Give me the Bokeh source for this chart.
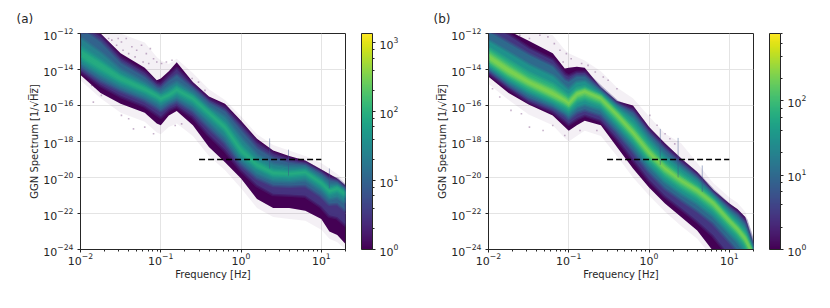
from bokeh.embed import file_html
from bokeh.resources import INLINE
from bokeh.layouts import row
from bokeh.plotting import figure
from bokeh.models import (ColorBar, ColumnDataSource, FixedTicker, LogColorMapper,
                          LogTicker, LogTickFormatter, Title)
from bokeh.palettes import Viridis256

freq_hz = [0.01, 0.0178, 0.0316, 0.0631, 0.0891, 0.1, 0.126, 0.158, 0.251, 0.398,
           0.631, 1.0, 1.58, 2.51, 3.98, 6.31, 10.0, 12.6, 15.8, 20.0]

# Panel (a): log10 spectrum of each density contour, upper and lower edge
a_levels = [1, 3, 10, 25, 50, 85]
a_up0 = [-11.0,-11.5,-12.0,-12.5,-13.3,-13.5,-13.7,-13.4,-14.2,-15.1,-15.7,-16.6,-17.6,-18.2,-18.5,-18.8,-19.2,-19.5,-19.8,-20.2]
a_up1 = [-11.5,-12.0,-13.1,-13.9,-14.6,-14.5,-14.1,-13.6,-14.7,-15.5,-15.9,-16.85,-17.85,-18.5,-18.8,-19.05,-19.55,-19.8,-20.05,-20.45]
a_up3 = [-11.5,-12.2,-13.4,-14.2,-14.8,-14.85,-14.4,-14.0,-14.9,-15.7,-16.15,-17.1,-18.1,-18.7,-19.0,-19.2,-19.7,-20.0,-20.15,-20.55]
a_up10 = [-11.7,-12.5,-13.65,-14.45,-15.0,-15.05,-14.65,-14.35,-15.05,-15.85,-16.35,-17.4,-18.4,-18.95,-19.2,-19.3,-19.8,-20.15,-20.25,-20.62]
a_up25 = [-12.3,-13.1,-14.05,-14.75,-15.2,-15.3,-15.0,-14.75,-15.3,-16.1,-16.7,-17.85,-18.8,-19.3,-19.45,-19.45,-20.0,-20.4,-20.4,-20.72]
a_up50 = [-12.75,-13.5,-14.3,-14.95,-15.35,-15.48,-15.25,-14.98,-15.48,-16.28,-17.0,-18.2,-19.1,-19.55,-19.65,-19.6,-20.2,-20.62,-20.52,-20.82]
a_up85 = [-12.95,-13.65,-14.4,-15.02,-15.4,-15.55,-15.35,-15.05,-15.55,-16.35,-17.12,-18.4,-19.22,-19.68,-19.75,-19.67,-20.26,-20.7,-20.57,-20.87]
a_lo85 = [-13.25,-13.95,-14.6,-15.18,-15.52,-15.68,-15.48,-15.2,-15.68,-16.48,-17.3,-18.6,-19.38,-19.82,-19.85,-19.75,-20.35,-20.8,-20.65,-20.95]
a_lo50 = [-13.45,-14.15,-14.75,-15.3,-15.65,-15.8,-15.6,-15.35,-15.85,-16.65,-17.45,-18.75,-19.5,-19.95,-20.0,-19.9,-20.5,-20.95,-20.8,-21.1]
a_lo25 = [-13.65,-14.35,-14.95,-15.5,-15.85,-16.0,-15.75,-15.55,-16.05,-16.9,-17.75,-19.0,-19.75,-20.15,-20.2,-20.1,-20.7,-21.15,-21.05,-21.35]
a_lo10 = [-13.85,-14.6,-15.15,-15.7,-16.1,-16.25,-15.95,-15.75,-16.3,-17.2,-18.05,-19.25,-20.0,-20.4,-20.45,-20.4,-21.0,-21.45,-21.4,-21.8]
a_lo3 = [-14.05,-14.85,-15.45,-16.0,-16.45,-16.6,-16.2,-16.0,-16.6,-17.6,-18.45,-19.55,-20.4,-20.9,-20.95,-21.0,-21.6,-22.1,-22.2,-22.6]
a_lo1 = [-14.3,-15.3,-15.9,-16.4,-17.0,-17.1,-16.55,-16.3,-17.1,-18.3,-19.15,-20.05,-21.2,-21.7,-21.7,-21.85,-22.3,-23.0,-23.2,-23.7]
a_lo0 = [-14.6,-15.6,-16.4,-16.9,-17.5,-17.6,-17.2,-17.0,-17.7,-18.8,-19.6,-20.6,-21.7,-22.2,-22.3,-22.4,-22.9,-23.4,-23.6,-24.0]

# Panel (b)
b_levels = [1, 3, 10, 30, 70, 130, 210]
b_up0 = [-11.0,-11.5,-11.8,-12.1,-12.9,-13.1,-13.3,-13.5,-14.1,-15.0,-15.6,-16.6,-17.55,-18.1,-19.2,-20.3,-21.1,-21.4,-21.9,-23.4]
b_up1 = [-11.3,-11.85,-12.4,-13.1,-13.95,-13.9,-13.85,-13.9,-15.0,-15.75,-16.0,-17.2,-18.1,-18.95,-19.7,-20.7,-21.45,-21.75,-22.2,-23.7]
b_up3 = [-11.5,-12.1,-12.84,-13.5,-14.3,-14.4,-14.2,-14.2,-15.05,-15.85,-16.25,-17.4,-18.3,-19.1,-19.85,-20.8,-21.6,-21.95,-22.4,-23.8]
b_up10 = [-11.9,-12.55,-13.2,-13.85,-14.6,-14.7,-14.4,-14.4,-15.15,-15.95,-16.45,-17.6,-18.5,-19.3,-20.0,-20.92,-21.75,-22.1,-22.6,-23.9]
b_up30 = [-12.45,-13.1,-13.77,-14.4,-15.0,-15.15,-14.75,-14.7,-15.3,-16.1,-16.75,-17.9,-18.85,-19.55,-20.2,-21.05,-21.95,-22.35,-22.85,-24.0]
b_up70 = [-12.85,-13.55,-14.23,-14.85,-15.35,-15.5,-15.1,-15.0,-15.42,-16.27,-17.1,-18.2,-19.15,-19.85,-20.45,-21.2,-22.15,-22.6,-23.1,-24.15]
b_up130 = [-13.05,-13.8,-14.5,-15.1,-15.55,-15.72,-15.27,-15.12,-15.5,-16.4,-17.35,-18.45,-19.35,-20.05,-20.62,-21.33,-22.32,-22.77,-23.3,-24.25]
b_up210 = [-13.2,-13.95,-14.62,-15.25,-15.65,-15.82,-15.32,-15.17,-15.55,-16.46,-17.45,-18.55,-19.45,-20.12,-20.67,-21.37,-22.37,-22.82,-23.36,-24.28]
b_lo210 = [-13.4,-14.15,-14.78,-15.43,-15.77,-15.93,-15.42,-15.27,-15.65,-16.55,-17.55,-18.65,-19.55,-20.2,-20.75,-21.45,-22.43,-22.88,-23.44,-24.35]
b_lo130 = [-13.52,-14.3,-14.9,-15.55,-15.88,-16.03,-15.55,-15.42,-15.78,-16.7,-17.68,-18.8,-19.7,-20.35,-20.9,-21.6,-22.55,-23.0,-23.55,-24.5]
b_lo70 = [-13.68,-14.45,-15.1,-15.7,-16.05,-16.2,-15.75,-15.62,-15.95,-16.9,-17.88,-19.0,-19.9,-20.55,-21.1,-21.8,-22.75,-23.2,-23.75,-24.8]
b_lo30 = [-13.85,-14.65,-15.3,-15.9,-16.3,-16.45,-16.05,-15.9,-16.2,-17.15,-18.15,-19.3,-20.2,-20.85,-21.4,-22.1,-23.05,-23.5,-24.1,-25.0]
b_lo10 = [-14.0,-14.85,-15.55,-16.1,-16.5,-16.7,-16.35,-16.2,-16.5,-17.45,-18.5,-19.65,-20.55,-21.2,-21.8,-22.5,-23.5,-24.0,-24.6,-25.5]
b_lo3 = [-14.15,-15.0,-15.75,-16.3,-16.8,-17.0,-16.7,-16.5,-16.8,-17.8,-18.95,-20.1,-21.0,-21.7,-22.4,-23.2,-24.3,-24.8,-25.2,-26.0]
b_lo1 = [-14.4,-15.3,-15.95,-16.55,-17.2,-17.4,-17.1,-16.85,-17.1,-18.3,-19.5,-20.55,-21.45,-22.2,-22.95,-24.1,-25.0,-25.5,-26.0,-26.5]
b_lo0 = [-14.8,-15.7,-16.5,-17.1,-17.8,-18.0,-17.7,-17.4,-17.7,-18.8,-20.0,-21.0,-21.9,-22.7,-23.4,-24.5,-25.5,-26.0,-26.5,-27.0]

a_uppers = [a_up1, a_up3, a_up10, a_up25, a_up50, a_up85]
a_lowers = [a_lo1, a_lo3, a_lo10, a_lo25, a_lo50, a_lo85]
b_uppers = [b_up1, b_up3, b_up10, b_up30, b_up70, b_up130, b_up210]
b_lowers = [b_lo1, b_lo3, b_lo10, b_lo30, b_lo70, b_lo130, b_lo210]

# Stray low-count cells (log10 f, log10 spectrum)
a_stray_f = [-1.61,-1.55,-1.49,-1.43,-1.36,-1.30,-1.24,-1.18,-1.13,-1.09,-1.05,-0.99,-0.93,-0.86,-0.61,-0.53,-0.45,
             -1.47,-1.40,-1.32,-1.22,-1.15,-1.53,-1.65,-1.86,-1.82,-1.84,-1.74,-1.49,-1.40,-1.34,-1.20,-1.09,-0.82,-0.74,-0.49]
a_stray_v = [-12.37,-12.65,-12.47,-12.28,-12.74,-12.93,-12.65,-13.12,-12.84,-13.40,-13.58,-13.67,-13.58,-13.49,-14.50,-14.70,-15.16,
             -12.93,-13.12,-13.30,-13.58,-13.67,-12.28,-12.28,-14.88,-14.97,-15.81,-15.44,-16.55,-16.74,-17.30,-17.20,-17.57,-17.11,-17.02,-17.57]
b_stray_f = [-1.90,-1.78,-1.61,-1.49,-1.36,-1.26,-1.18,-1.11,-1.03,-0.97,-0.84,-0.76,-0.67,-0.57,-0.51,-0.40,-1.40,-1.30,-1.20,-1.07,
             -1.95,-1.86,-1.72,-1.59,-1.49,-1.32,-1.20,-1.05,-0.86,-0.65,-0.45,0.01,0.10,0.20,0.26,0.32,-0.07,-0.15]
b_stray_v = [-12.10,-12.19,-12.10,-12.28,-12.10,-12.19,-12.56,-12.93,-13.12,-13.40,-13.67,-13.77,-14.14,-14.42,-14.60,-15.07,-12.74,-13.12,-13.49,-13.58,
             -15.07,-15.53,-16.27,-16.46,-17.20,-17.39,-17.11,-17.67,-17.39,-17.39,-17.76,-16.55,-17.10,-17.57,-17.85,-18.13,-16.83,-16.46]

# Narrow vertical lines standing out of the band: frequency, top, bottom
a_spike_f = [2.27, 3.9, 12.6]
a_spike_top = [-17.83, -18.45, -19.5]
a_spike_bot = [-19.5, -19.9, -20.6]
b_spike_f = [1.38, 2.3, 4.6]
b_spike_top = [-17.3, -17.8, -19.33]
b_spike_bot = [-19.3, -20.0, -20.8]

dash_freq = [0.3, 10.0]
dash_level = [1e-19, 1e-19]
y_ticks = [1e-24, 1e-22, 1e-20, 1e-18, 1e-16, 1e-14, 1e-12]
x_major = [0.01, 0.1, 1.0, 10.0]
x_minor = [m * d for d in (0.01, 0.1, 1.0) for m in range(2, 10)] + [20.0]
a_cb_high = 1365
b_cb_high = 810

FONT = "DejaVu Sans"
INK = "#262626"


def polygon(upper, lower):
    xs = freq_hz + freq_hz[::-1]
    ys = [10.0 ** v for v in upper] + [10.0 ** v for v in lower[::-1]]
    return xs, ys


def panel(tag, tag_x, levels, uppers, lowers, halo_up, halo_lo, stray_f, stray_v,
          spike_f, spike_top, spike_bot, high, left):
    p = figure(height=290, x_axis_type="log", y_axis_type="log",
               x_range=(0.01, 20), y_range=(1e-24, 1e-12), output_backend="svg",
               toolbar_location=None, frame_width=265, frame_height=216,
               min_border_left=left, min_border_top=33, min_border_bottom=41, min_border_right=0)
    mapper = LogColorMapper(palette=Viridis256, low=1, high=high)

    hx, hy = polygon(halo_up, halo_lo)
    p.patch(hx, hy, fill_color="#440154", fill_alpha=0.06, line_color=None)
    p.scatter([10.0 ** v for v in stray_f], [10.0 ** v for v in stray_v], marker="square",
              size=1.6, fill_color="#440154", fill_alpha=0.3, line_color=None)

    shapes = [polygon(u, l) for u, l in zip(uppers, lowers)]
    stroke = [0.0] + [1.0] * (len(levels) - 1)
    src = ColumnDataSource(dict(xs=[s[0] for s in shapes], ys=[s[1] for s in shapes], level=levels,
                                wide=[0.35 * s for s in stroke], thin=[0.45 * s for s in stroke]))
    color = {"field": "level", "transform": mapper}
    # soft strokes take the hard edge off each inner contour's fill; the outermost stays crisp
    p.patches("xs", "ys", source=src, fill_color=color, line_color=color,
              line_width=5, line_alpha="wide", line_join="round")
    p.patches("xs", "ys", source=src, fill_color=None, line_color=color,
              line_width=2.5, line_alpha="thin", line_join="round")

    p.segment(spike_f, [10.0 ** v for v in spike_top], spike_f, [10.0 ** v for v in spike_bot],
              line_color="#3b528b", line_alpha=0.45, line_width=1)

    p.line(dash_freq, dash_level, line_color="black", line_width=1.6, line_dash="6 3")

    p.xaxis.ticker = FixedTicker(ticks=x_major, minor_ticks=x_minor)
    p.yaxis.ticker = FixedTicker(ticks=y_ticks)
    p.xaxis.formatter = LogTickFormatter()
    p.yaxis.formatter = LogTickFormatter()
    p.xaxis.axis_label = "Frequency [Hz]"
    p.yaxis.axis_label = "GGN Spectrum [1/\u221aH\u0305z\u0305]"
    for ax in (p.xaxis[0], p.yaxis[0]):
        ax.axis_label_text_font = FONT
        ax.axis_label_text_font_size = "10px"
        ax.axis_label_text_font_style = "normal"
        ax.axis_label_text_color = INK
        ax.major_label_text_font = FONT
        ax.major_label_text_font_size = "11px"
        ax.major_label_text_color = INK
        ax.axis_line_color = INK
        ax.major_tick_line_color = INK
        ax.minor_tick_line_color = INK
        ax.major_tick_in = 0
        ax.major_tick_out = 3
        ax.minor_tick_in = 0
        ax.minor_tick_out = 2
    p.xaxis.major_label_standoff = 0
    p.xaxis.axis_label_standoff = 1
    p.yaxis.major_label_standoff = 4
    p.yaxis.axis_label_standoff = 0
    p.yaxis.minor_tick_line_color = None
    p.xgrid.ticker = FixedTicker(ticks=x_major)
    p.ygrid.ticker = FixedTicker(ticks=y_ticks)
    p.xgrid.grid_line_color = "#e4e4e4"
    p.ygrid.grid_line_color = "#e4e4e4"
    p.xgrid.minor_grid_line_color = None
    p.ygrid.minor_grid_line_color = None
    p.outline_line_color = INK
    p.outline_line_width = 1
    p.outline_line_alpha = 1

    cb = ColorBar(color_mapper=mapper, ticker=LogTicker(), formatter=LogTickFormatter(),
                  width=11, height=216, padding=0, margin=0, location=(16, 0),
                  major_tick_in=0, major_tick_out=3, minor_tick_in=0, minor_tick_out=2,
                  major_tick_line_color=INK, minor_tick_line_color=INK,
                  bar_line_color=INK, major_label_text_font=FONT, major_label_text_font_size="11px",
                  major_label_text_color=INK, label_standoff=4)
    p.add_layout(cb, "right")
    p.add_layout(Title(text=tag, align="left", offset=tag_x, text_font=FONT, text_font_size="12px",
                       text_font_style="normal", text_color=INK, standoff=16), "above")
    return p


p1 = panel("(a)", -64, a_levels, a_uppers, a_lowers, a_up0, a_lo0, a_stray_f, a_stray_v,
           a_spike_f, a_spike_top, a_spike_bot, a_cb_high, 80)
p2 = panel("(b)", -55, b_levels, b_uppers, b_lowers, b_up0, b_lo0, b_stray_f, b_stray_v,
           b_spike_f, b_spike_top, b_spike_bot, b_cb_high, 87)

open("out.html", "w").write(file_html(row(p1, p2), INLINE))
